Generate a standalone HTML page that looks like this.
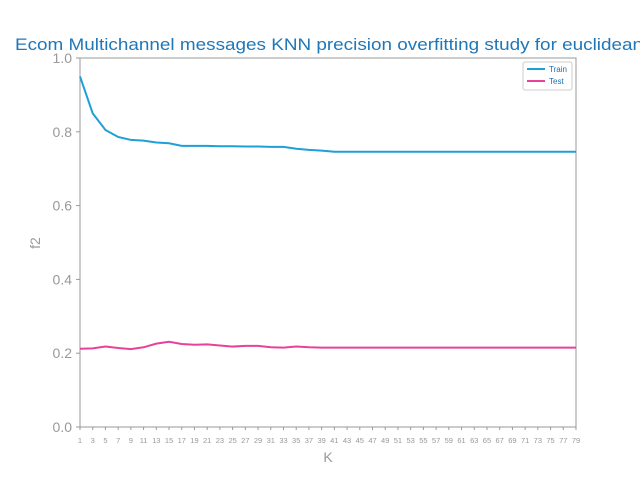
<!DOCTYPE html>
<html><head><meta charset="utf-8"><style>
body{margin:0;background:#fff;font-family:"Liberation Sans",sans-serif;}
svg text{font-family:"Liberation Sans",sans-serif;}
</style></head><body>
<svg id="chart" width="640" height="480">
<text x="15" y="50" font-size="17" fill="#1f77b8" textLength="628" lengthAdjust="spacingAndGlyphs">Ecom Multichannel messages KNN precision overfitting study for euclidean</text>
<g id="axes"></g>
<g id="lines"></g>
<g>
<rect x="523" y="62" width="49" height="28" rx="2" fill="#fff" stroke="#ccc"/>
<line x1="527" y1="69" x2="545" y2="69" stroke="#1f9fd8" stroke-width="2"/>
<text x="549" y="72" font-size="8" fill="#1a6fb0">Train</text>
<line x1="527" y1="81" x2="545" y2="81" stroke="#e8419a" stroke-width="2"/>
<text x="549" y="84" font-size="8" fill="#1a6fb0">Test</text>
</g>
</svg>
<script>
const kValues=[1,3,5,7,9,11,13,15,17,19,21,23,25,27,29,31,33,35,37,39,41,43,45,47,49,51,53,55,57,59,61,63,65,67,69,71,73,75,77,79];
const trainValues=[0.95,0.85,0.805,0.786,0.778,0.776,0.771,0.769,0.762,0.762,0.762,0.761,0.761,0.760,0.760,0.759,0.759,0.754,0.751,0.749,0.746,0.746,0.746,0.746,0.746,0.746,0.746,0.746,0.746,0.746,0.746,0.746,0.746,0.746,0.746,0.746,0.746,0.746,0.746,0.746];
const testValues=[0.212,0.213,0.218,0.214,0.211,0.216,0.226,0.231,0.225,0.223,0.224,0.221,0.218,0.220,0.220,0.216,0.215,0.218,0.216,0.215,0.215,0.215,0.215,0.215,0.215,0.215,0.215,0.215,0.215,0.215,0.215,0.215,0.215,0.215,0.215,0.215,0.215,0.215,0.215,0.215];
const yTicks=[0,0.2,0.4,0.6,0.8,1.0];
const X0=80,X1=576,Y0=427,Y1=58,KMIN=1,KMAX=79;
const xs=k=>X0+(k-KMIN)/(KMAX-KMIN)*(X1-X0);
const ys=v=>Y0-v*(Y0-Y1);
const NS="http://www.w3.org/2000/svg";
function mk(tag,attrs,parent,txt){const e=document.createElementNS(NS,tag);for(const a in attrs)e.setAttribute(a,attrs[a]);if(txt!==undefined)e.textContent=txt;parent.appendChild(e);return e;}
const ax=document.getElementById('axes');
const frame=mk('rect',{x:X0,y:Y1,width:X1-X0,height:Y0-Y1,fill:'none',stroke:'#999','stroke-width':1},ax);


yTicks.forEach(t=>{
  const y=ys(t);
  const l=mk('line',{x1:X0-4,x2:X0,y1:y,y2:y,stroke:'#999'},ax);
  
  
  const tx=mk('text',{x:X0-8,y:y+5,'text-anchor':'end','font-size':14,fill:'#999'},ax,t.toFixed(1));
  
  
});
kValues.forEach(k=>{
  const x=xs(k);
  const l=mk('line',{x1:x,x2:x,y1:Y0,y2:Y0+3,stroke:'#999'},ax);
  
  
  const tx=mk('text',{x:x,y:Y0+16,'text-anchor':'middle','font-size':7.5,fill:'#999'},ax,String(k));
  
  
});
const xl=mk('text',{x:328,y:462,'text-anchor':'middle','font-size':14,fill:'#999'},ax,'K');


const yl=mk('text',{x:40,y:243,'text-anchor':'middle','font-size':14,fill:'#999',transform:'rotate(-90 40 243)'},ax,'f2');


const lg=document.getElementById('lines');
function series(vals,color,name){
  const d=vals.map((v,i)=>(i?'L':'M')+xs(kValues[i]).toFixed(2)+','+ys(v).toFixed(2)).join(' ');
  const p=mk('path',{d:d,fill:'none',stroke:color,'stroke-width':2},lg);
  
  
}
series(trainValues,'#1f9fd8','train-line');
series(testValues,'#e8419a','test-line');
</script>
</body></html>
